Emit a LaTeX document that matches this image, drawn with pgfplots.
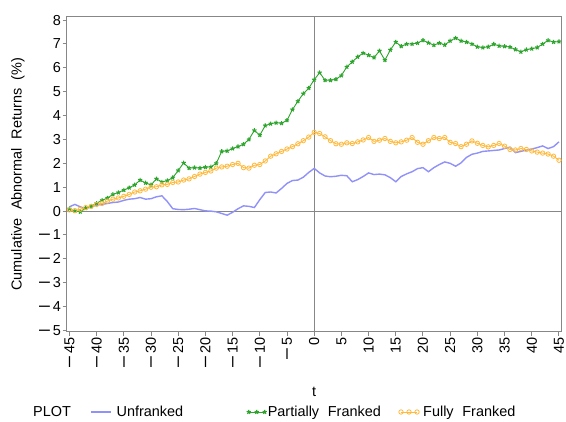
\documentclass[border=0pt]{standalone}
\usepackage{graphicx}
\usepackage{pgfplots}
\pgfplotsset{compat=1.18}
\usepackage{pgfplotstable}
\usepackage{fontspec}
\setmainfont{Liberation Sans}

\definecolor{unfr}{RGB}{145,145,250}
\definecolor{partfr}{RGB}{45,165,45}
\definecolor{fullfr}{RGB}{255,185,60}
\definecolor{framegray}{RGB}{135,135,135}

% legend samples: a plain line, and a row of three marks
\pgfplotsset{
  carline sample/.style={legend image code/.code={\draw[##1] (0bp,0bp) -- (20bp,0bp);}},
  carmarks sample/.style={legend image code/.code={\draw[##1, mark repeat=1] plot coordinates {(3bp,0bp) (11bp,0bp) (19bp,0bp)};}},
}

% Cumulative abnormal returns (%) by event day t
\pgfplotstableread{
t    U      P      F
-45  0.18   0.10   0.05
-44  0.28   0.00   0.02
-43  0.18  -0.03   0.08
-42  0.10   0.12   0.15
-41  0.18   0.20   0.20
-40  0.25   0.33   0.28
-39  0.28   0.45   0.32
-38  0.32   0.55   0.42
-37  0.36   0.70   0.50
-36  0.38   0.78   0.55
-35  0.45   0.88   0.62
-34  0.50   0.98   0.70
-33  0.52   1.10   0.80
-32  0.57   1.30   0.85
-31  0.50   1.18   0.92
-30  0.52   1.10   1.00
-29  0.60   1.35   1.02
-28  0.64   1.22   1.10
-27  0.40   1.28   1.12
-26  0.10   1.40   1.20
-25  0.07   1.70   1.22
-24  0.06   2.02   1.30
-23  0.08   1.80   1.35
-22  0.11   1.82   1.45
-21  0.06   1.80   1.55
-20  0.01   1.84   1.62
-19  0.00   1.85   1.68
-18 -0.03   2.00   1.80
-17 -0.10   2.50   1.85
-16 -0.17   2.52   1.88
-15 -0.05   2.62   1.95
-14  0.10   2.70   2.00
-13  0.22   2.80   1.82
-12  0.20   3.00   1.80
-11  0.15   3.38   1.92
-10  0.48   3.18   1.95
-9   0.78   3.58   2.10
-8   0.80   3.66   2.30
-7   0.76   3.70   2.40
-6   0.95   3.68   2.50
-5   1.16   3.80   2.60
-4   1.28   4.25   2.70
-3   1.30   4.60   2.82
-2   1.42   4.92   2.95
-1   1.62   5.15   3.10
0    1.79   5.50   3.30
1    1.60   5.80   3.25
2    1.47   5.48   3.11
3    1.44   5.48   2.95
4    1.46   5.52   2.82
5    1.50   5.68   2.80
6    1.48   6.04   2.86
7    1.23   6.25   2.83
8    1.32   6.46   2.90
9    1.45   6.62   2.98
10   1.60   6.53   3.08
11   1.53   6.43   2.92
12   1.55   6.71   2.97
13   1.52   6.32   3.04
14   1.40   6.75   2.92
15   1.23   7.08   2.86
16   1.45   6.90   2.90
17   1.56   7.00   2.97
18   1.65   7.00   3.08
19   1.78   7.04   2.88
20   1.82   7.15   2.80
21   1.65   7.05   2.95
22   1.82   6.95   3.08
23   1.95   7.04   3.04
24   2.06   6.96   3.08
25   2.00   7.13   2.88
26   1.88   7.25   2.83
27   2.02   7.13   2.70
28   2.25   7.08   2.80
29   2.38   7.00   2.94
30   2.43   6.88   2.84
31   2.50   6.85   2.75
32   2.52   6.88   2.69
33   2.54   6.99   2.75
34   2.56   6.92   2.83
35   2.62   6.90   2.72
36   2.68   6.87   2.58
37   2.45   6.77   2.56
38   2.50   6.67   2.62
39   2.56   6.76   2.58
40   2.60   6.80   2.52
41   2.66   6.85   2.47
42   2.73   7.00   2.43
43   2.62   7.15   2.39
44   2.70   7.08   2.30
45   2.90   7.10   2.13
}\cartable

% long minus as used on the tick labels
\newcommand{\mn}{\scalebox{1.35}[1.3]{–}\hspace{3bp}}
\newcommand{\wsp}{\hspace{0.6em}}

\begin{document}
\begin{tikzpicture}
\path[use as bounding box] (0,0) rectangle (566bp,422bp);
\begin{axis}[
  at={(66.7bp,90.3bp)}, anchor=south west,
  scale only axis, width=495bp, height=315.2bp,
  xmin=-45.5, xmax=45.5, ymin=-5.05, ymax=8.15,
  axis line style={framegray, line width=1.2bp},
  tick style={framegray, line width=1bp},
  tick align=outside, major tick length=4bp,
  xtick pos=bottom, ytick pos=left,
  font=\fontsize{14.5}{16}\selectfont,
  xtick={-45,-40,...,45},
  xticklabels={\mn45,\mn40,\mn35,\mn30,\mn25,\mn20,\mn15,\mn10,\mn5,0,5,10,15,20,25,30,35,40,45},
  ytick={-5,-4,...,8},
  yticklabels={\mn5,\mn4,\mn3,\mn2,\mn1,0,1,2,3,4,5,6,7,8},
  tick label style={inner sep=1.5bp},
  xticklabel style={rotate=90, anchor=east},
  xlabel={t},
  x label style={at={(axis description cs:0.5,-0.19)}, anchor=center},
  ylabel={Cumulative\wsp Abnormal\wsp Returns\wsp (\%)},
  y label style={at={(axis description cs:-0.0984,0.5)}, anchor=center},
  legend columns=4,
  legend cell align=left,
  legend style={at={(axis description cs:-0.068,-0.2548)}, anchor=west,
    draw=none, fill=none, inner sep=0pt, column sep=0pt,
    nodes={inner sep=0pt}},
]
% reference lines at t = 0 and CAR = 0
\addplot[framegray, line width=1.2bp, forget plot] coordinates {(0,-5.05) (0,8.15)};
\addplot[framegray, line width=1.2bp, forget plot] coordinates {(-45.5,0) (45.5,0)};

\addlegendimage{empty legend}
\addlegendentry{\makebox[57bp][l]{PLOT}}

\addplot[unfr, line width=1.4bp, carline sample]
  table[x=t, y=U] {\cartable};
\addlegendentry{\hspace*{5bp}\makebox[130bp][l]{Unfranked}}

\addplot[partfr, line width=0.9bp, mark=star, mark size=2.2bp,
  mark options={line width=1.1bp}, carmarks sample]
  table[x=t, y=P] {\cartable};
\addlegendentry{\hspace*{1bp}\makebox[131bp][l]{Partially\wsp Franked}}

\addplot[fullfr, line width=0.9bp, mark=o, mark size=2.2bp,
  mark options={line width=0.8bp}, carmarks sample]
  table[x=t, y=F] {\cartable};
\addlegendentry{\hspace*{4bp}Fully\wsp Franked}
\end{axis}
\end{tikzpicture}
\end{document}
